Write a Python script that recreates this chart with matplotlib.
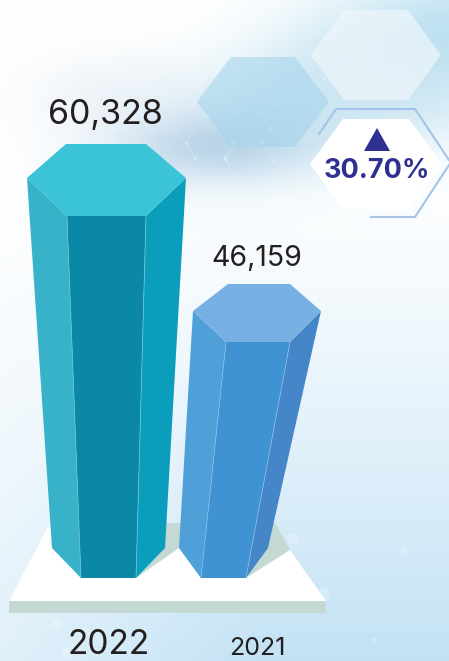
import numpy as np
import matplotlib
matplotlib.use("Agg")
import matplotlib.pyplot as plt
from matplotlib.patches import Polygon

years = ["2022", "2021"]
values = [60328, 46159]
change_label = "30.70%"

W, H = 449, 661
BASE_Y = 578


def val_y(v):
    # pictogram scale, the baseline is far from zero
    return 216 + (60328 - v) * 126 / 14169


def blob(X, Y, cx, cy, sx, sy, rot=0.0):
    c, s = np.cos(rot), np.sin(rot)
    dx, dy = X - cx, Y - cy
    u = c * dx + s * dy
    v = -s * dx + c * dy
    return np.exp(-(u / sx) ** 2 - (v / sy) ** 2)


def hexagon(cx, cy, rx, ry, inset):
    return [(cx - rx, cy), (cx - rx + inset, cy - ry), (cx + rx - inset, cy - ry),
            (cx + rx, cy), (cx + rx - inset, cy + ry), (cx - rx + inset, cy + ry)]


def draw_bar(ax, v, xs, top_dy, bottom, colors):
    # xs: left, front-left, front-right, right at the top
    # bottom: left, front-left, front-right, right at the foot
    y = val_y(v)
    l, fl, fr, r = xs
    bl, bfl, bfr, br = bottom
    back_l, back_r = top_dy[1]
    dy_side, dy_back = top_dy[0]
    ax.add_patch(Polygon([(l, y - dy_side), (fl, y), (bfl, BASE_Y), (bl, BASE_Y - 30)],
                         fc=colors[0], ec="none", zorder=5))
    ax.add_patch(Polygon([(fl, y), (fr, y), (bfr, BASE_Y), (bfl, BASE_Y)],
                         fc=colors[1], ec="none", zorder=5))
    ax.add_patch(Polygon([(fr, y), (r, y - dy_side), (br, BASE_Y - 30), (bfr, BASE_Y)],
                         fc=colors[2], ec="none", zorder=5))
    ax.add_patch(Polygon([(l, y - dy_side), (back_l, y - dy_back), (back_r, y - dy_back),
                          (r, y - dy_side), (fr, y), (fl, y)],
                         fc=colors[3], ec="none", zorder=6))
    ax.plot([fl, bfl], [y, BASE_Y], color=colors[4], lw=0.5, zorder=7)
    ax.plot([fr, bfr], [y, BASE_Y], color=colors[4], lw=0.5, zorder=7)


fig = plt.figure(figsize=(4.49, 6.61), dpi=100)
ax = fig.add_axes([0, 0, 1, 1])
ax.set_xlim(0, W)
ax.set_ylim(H, 0)
ax.axis("off")

# background wash
X, Y = np.meshgrid(np.arange(W) + 0.5, np.arange(H) + 0.5)
t = np.clip((Y - 170) / 490, 0, 1) ** 1.2
t = t * (0.5 + 0.5 * np.clip(X / 260, 0, 1))
bg = np.ones((H, W, 3)) * (1 - t[..., None]) + np.array([0.765, 0.886, 0.96])[None, None, :] * t[..., None]
for cx, cy, sx, sy, rot, col, amt in [
    (430, 45, 170, 75, -0.3, (0.72, 0.87, 0.94), 0.95),
    (300, 115, 170, 55, -0.2, (0.80, 0.90, 0.95), 0.85),
    (215, 145, 90, 32, 0.0, (0.68, 0.79, 0.89), 0.72),
    (115, 95, 85, 40, 0.0, (0.87, 0.91, 0.95), 0.45),
]:
    a = (amt * blob(X, Y, cx, cy, sx, sy, rot))[..., None]
    bg = bg * (1 - a) + np.array(col)[None, None, :] * a
ax.imshow(bg, extent=(0, W, H, 0), aspect="auto", zorder=0, interpolation="bilinear")

# faint net in the wash
for cx, cy in [(210, 143), (247, 127), (285, 113), (222, 100), (262, 90), (300, 78), (250, 160)]:
    ax.add_patch(Polygon(hexagon(cx, cy, 24, 15, 9), fc="none", ec="#cdebf6", lw=0.6, alpha=0.6, zorder=1))
    ax.scatter([cx - 24, cx + 24, cx - 15, cx + 15], [cy, cy, cy + 15, cy + 15], s=5,
               color="#d2f2fb", alpha=0.85, lw=0, zorder=1)
ax.plot([115, 170, 186], [136, 122, 143], color="#cdebf6", lw=0.6, alpha=0.7, zorder=1)
ax.plot([125, 186], [128, 112], color="#cdebf6", lw=0.6, alpha=0.6, zorder=1)

# soft specks
for cx, cy, r in [(293, 538, 70), (323, 594, 90), (66, 653, 70), (404, 550, 30), (374, 640, 12), (57, 623, 50)]:
    ax.scatter([cx], [cy], s=r, color="white", alpha=0.25, lw=0, zorder=1)

# background hexagons
ax.add_patch(Polygon(hexagon(376, 55, 65, 45, 33), fc="#eef6fa", alpha=0.72, ec="none", zorder=2))
ax.add_patch(Polygon(hexagon(263, 102, 66, 45, 34), fc="#a2d3ec", alpha=0.55, ec="none", zorder=2))

# change badge
ax.add_patch(Polygon(hexagon(376, 164, 66, 45, 33), fc="white", ec="none", zorder=3))
ax.plot([319, 336, 415, 449], [134, 109, 109, 160], color="#a3c5e8", lw=1.5, zorder=3)
ax.plot([449, 415, 371], [165, 217, 217], color="#a3c5e8", lw=1.5, zorder=3)
ax.add_patch(Polygon([(377, 128), (364, 151), (390, 151)], fc="#2e3192", ec="none", zorder=4))
ax.text(377, 178.5, change_label, ha="center", va="baseline", fontsize=19.5, fontweight="bold",
        family="Inter", color="#2e3192", zorder=4)

# platform
ax.add_patch(Polygon([(50, 523), (275, 523), (290, 550), (246, 578), (136, 578)],
                     fc="#c4d8d4", ec="none", zorder=3))
ax.add_patch(Polygon([(9, 601), (50, 523), (80, 560), (136, 578), (179, 548), (201, 578), (246, 578),
                      (290, 550), (326, 601)], fc="white", ec="none", zorder=4))
ax.add_patch(Polygon([(9, 601), (326, 601), (326, 613), (9, 613)], fc="#c4d8d4", ec="none", zorder=4))

# bars
draw_bar(ax, values[0], (27, 67, 146, 186), ((38, 72), (66, 146)), (52, 81, 136, 165),
         ("#37b2c8", "#0b88a6", "#0b9dbc", "#3bc3d7", "#6fc9da"))
draw_bar(ax, values[1], (193, 226, 290, 321), ((31, 58), (228, 290)), (179, 201, 246, 268),
         ("#4f9fd9", "#4093d3", "#4486c8", "#77b0e2", "#8ac0e8"))

# labels
ax.text(105.5, 124.5, f"{values[0]:,}", ha="center", va="baseline", fontsize=24.5,
        family="Inter", color="#231f20", zorder=8)
ax.text(257, 266, f"{values[1]:,}", ha="center", va="baseline", fontsize=20.5,
        family="Inter", color="#231f20", zorder=8)
ax.text(109, 654, years[0], ha="center", va="baseline", fontsize=24,
        family="Inter", color="#231f20", zorder=8)
ax.text(257, 655, years[1], ha="center", va="baseline", fontsize=18,
        family="Inter", color="#231f20", zorder=8)

fig.savefig("out.png", dpi=100)
